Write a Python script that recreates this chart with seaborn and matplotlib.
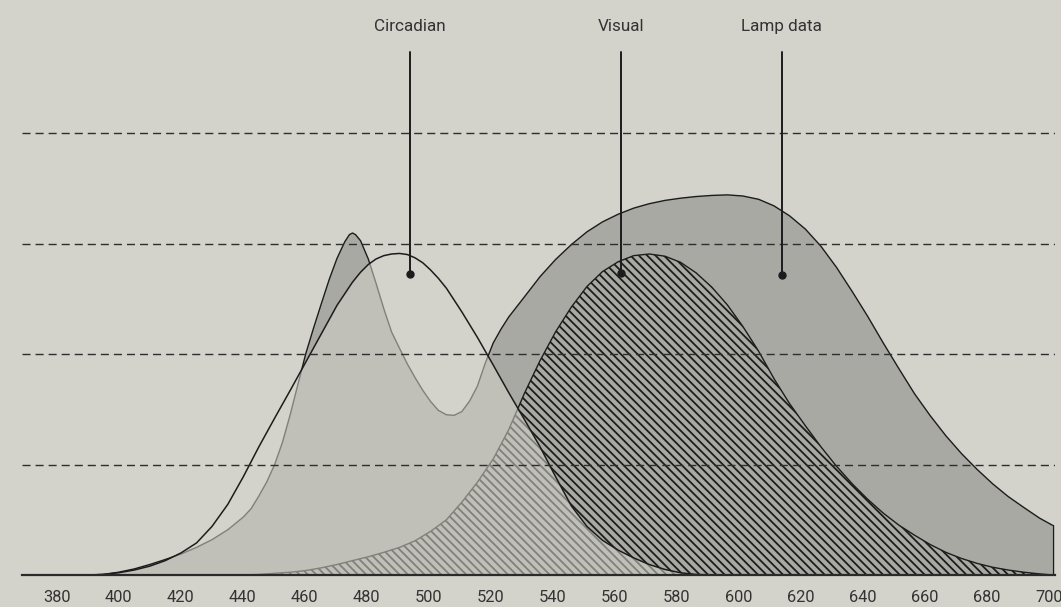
import matplotlib
matplotlib.use("Agg")
import matplotlib.pyplot as plt
import seaborn as sns

# ---------------- data ----------------
lamp_nm = [380, 390, 394.9, 399.9, 405.0, 410.0, 415.0, 420.1, 425.1, 430.1, 435.2, 440.2,
           442.7, 445.2, 447.7, 450.3, 452.8, 455.3, 457.8, 460.3, 462.9, 465.4, 467.9,
           470.4, 472.9, 474.4, 475.4, 476.4, 478.0, 480.5, 483.0, 485.5, 488.0, 490.6,
           493.1, 495.6, 498.1, 500.6, 503.1, 505.7, 508.2, 510.7, 513.2, 515.7, 518.2,
           520.8, 523.3, 525.8, 530.8, 535.9, 540.9, 546.0, 551.0, 556.0, 561.1, 566.1,
           571.1, 576.2, 581.2, 586.2, 591.3, 596.3, 601.3, 606.4, 611.4, 616.4, 621.5,
           626.5, 631.5, 636.6, 641.6, 646.6, 651.7, 656.7, 661.8, 666.8, 671.8, 676.9,
           681.9, 686.9, 692.0, 697.0, 701.2]
lamp = [0, 0, 0.001, 0.005, 0.011, 0.019, 0.028, 0.038, 0.05, 0.064, 0.082, 0.105,
        0.12, 0.143, 0.168, 0.2, 0.24, 0.29, 0.345, 0.4, 0.448, 0.492, 0.535,
        0.573, 0.603, 0.616, 0.619, 0.616, 0.605, 0.572, 0.528, 0.482, 0.44, 0.41,
        0.382, 0.357, 0.334, 0.314, 0.298, 0.29, 0.289, 0.296, 0.315, 0.342, 0.383,
        0.42, 0.445, 0.467, 0.503, 0.54, 0.571, 0.598, 0.621, 0.639, 0.653, 0.664,
        0.672, 0.678, 0.682, 0.685, 0.687, 0.688, 0.686, 0.68, 0.668, 0.65, 0.626,
        0.595, 0.557, 0.513, 0.468, 0.42, 0.373, 0.328, 0.288, 0.252, 0.22, 0.191,
        0.165, 0.142, 0.122, 0.103, 0.09]

circ_nm = [380, 390, 394.9, 399.9, 405.0, 410.0, 415.0, 420.1, 425.1, 430.1, 435.2,
           440.2, 445.2, 450.3, 455.3, 460.3, 465.4, 470.4, 475.4, 478.0, 480.5, 483.0,
           485.5, 488.0, 490.6, 493.1, 495.6, 498.1, 500.6, 503.1, 505.7, 510.7, 515.7,
           520.8, 525.8, 530.8, 535.9, 540.9, 546.0, 551.0, 556.0, 561.1, 566.1, 571.1,
           576.2, 581.2, 586.2, 591.3, 701.2]
circadian = [0, 0, 0.001, 0.004, 0.009, 0.016, 0.026, 0.04, 0.058, 0.088, 0.128,
             0.178, 0.232, 0.284, 0.334, 0.385, 0.437, 0.488, 0.53, 0.548, 0.562, 0.572,
             0.578, 0.581, 0.582, 0.58, 0.574, 0.565, 0.552, 0.537, 0.519, 0.476, 0.43,
             0.38, 0.33, 0.282, 0.232, 0.178, 0.125, 0.088, 0.063, 0.045, 0.031, 0.019,
             0.01, 0.004, 0.001, 0, 0]

vis_nm = [380, 440.2, 445.2, 450.3, 455.3, 460.3, 465.4, 470.4, 475.4, 480.5, 485.5,
          490.6, 495.6, 500.6, 505.7, 510.7, 515.7, 520.8, 525.8, 530.8, 535.9, 540.9,
          546.0, 551.0, 556.0, 561.1, 566.1, 571.1, 576.2, 581.2, 586.2, 591.3, 596.3,
          601.3, 606.4, 611.4, 616.4, 621.5, 626.5, 631.5, 636.6, 641.6, 646.6, 651.7,
          656.7, 661.8, 666.8, 671.8, 676.9, 681.9, 686.9, 692.0, 697.0, 701.2]
visual = [0, 0, 0.001, 0.003, 0.005, 0.008, 0.013, 0.019, 0.026, 0.033, 0.041,
          0.05, 0.062, 0.079, 0.1, 0.132, 0.168, 0.21, 0.263, 0.328, 0.388, 0.44,
          0.485, 0.522, 0.549, 0.567, 0.578, 0.581, 0.577, 0.566, 0.547, 0.521, 0.489,
          0.45, 0.405, 0.355, 0.31, 0.27, 0.232, 0.197, 0.165, 0.137, 0.112, 0.09,
          0.072, 0.055, 0.041, 0.03, 0.021, 0.014, 0.009, 0.005, 0.002, 0]

tick_values = list(range(380, 701, 20))
grid_levels = [0.2, 0.4, 0.6, 0.8]

ann_labels = ["Circadian", "Visual", "Lamp data"]
ann_x = [494.0, 562.0, 613.9]
ann_y = [0.545, 0.547, 0.543]

# ---------------- style ----------------
BG = "#d3d3cc"
LAMP = "#a9a9a3"
INK = "#1c1c1c"
TXT = "#333333"
HATCH = chr(92) * 4   # dense back-slash hatch

sns.set_theme(style="white")
plt.rcParams["font.family"] = ["Roboto", "DejaVu Sans"]
plt.rcParams["hatch.linewidth"] = 1.3
plt.rcParams["hatch.color"] = INK

fig = plt.figure(figsize=(10.61, 6.07), dpi=100, facecolor=BG)
ax = fig.add_axes([22 / 1061, 1 - 575 / 607, (1055 - 22) / 1061, 552.5 / 607])
ax.set_facecolor(BG)

# lamp spectrum
ax.fill_between(lamp_nm, 0, lamp, facecolor=LAMP, edgecolor="none", zorder=1)
sns.lineplot(x=lamp_nm, y=lamp, ax=ax, color=INK, lw=1.0, zorder=1.2)
ax.plot([lamp_nm[-1], lamp_nm[-1]], [0, lamp[-1]], color=INK, lw=1.0, zorder=1.2)

# visual (hatched)
ax.fill_between(vis_nm, 0, visual, facecolor="none", edgecolor=INK,
                hatch=HATCH, linewidth=0, zorder=2)
sns.lineplot(x=vis_nm, y=visual, ax=ax, color=INK, lw=1.0, zorder=2.2)

# circadian: translucent light veil + outline
ax.fill_between(circ_nm, 0, circadian, facecolor=BG, alpha=0.55,
                edgecolor="none", zorder=3)
sns.lineplot(x=circ_nm, y=circadian, ax=ax, color=INK, lw=1.1, zorder=3.5)

# dashed guides
for g in grid_levels:
    ax.axhline(g, color="#2e2e2e", lw=1.0, dashes=(5.8, 3.6), zorder=5)

# annotations
for lab, x, y in zip(ann_labels, ann_x, ann_y):
    ax.plot([x, x], [y, 0.947], color=INK, lw=1.4, zorder=6, clip_on=False)
    ax.plot([x], [y], marker="o", ms=5, color=INK, zorder=6)
    ax.text(x, 0.993, lab, ha="center", va="center", fontsize=12.3,
            color=TXT, clip_on=False)

ax.set_xlim(368.8, 702.0)
ax.set_ylim(0, 1)
ax.set_xticks(tick_values)
ax.set_xticklabels([str(t) for t in tick_values], fontsize=11.8, color=TXT)
ax.set_yticks([])
ax.tick_params(axis="x", length=0, pad=11)
ax.set_xlabel("")
ax.set_ylabel("")
for s in ["left", "right", "top"]:
    ax.spines[s].set_visible(False)
ax.spines["bottom"].set_color("#2a2a2a")
ax.spines["bottom"].set_linewidth(1.6)
ax.spines["bottom"].set_zorder(7)

fig.savefig("out.png", dpi=100, facecolor=BG)
